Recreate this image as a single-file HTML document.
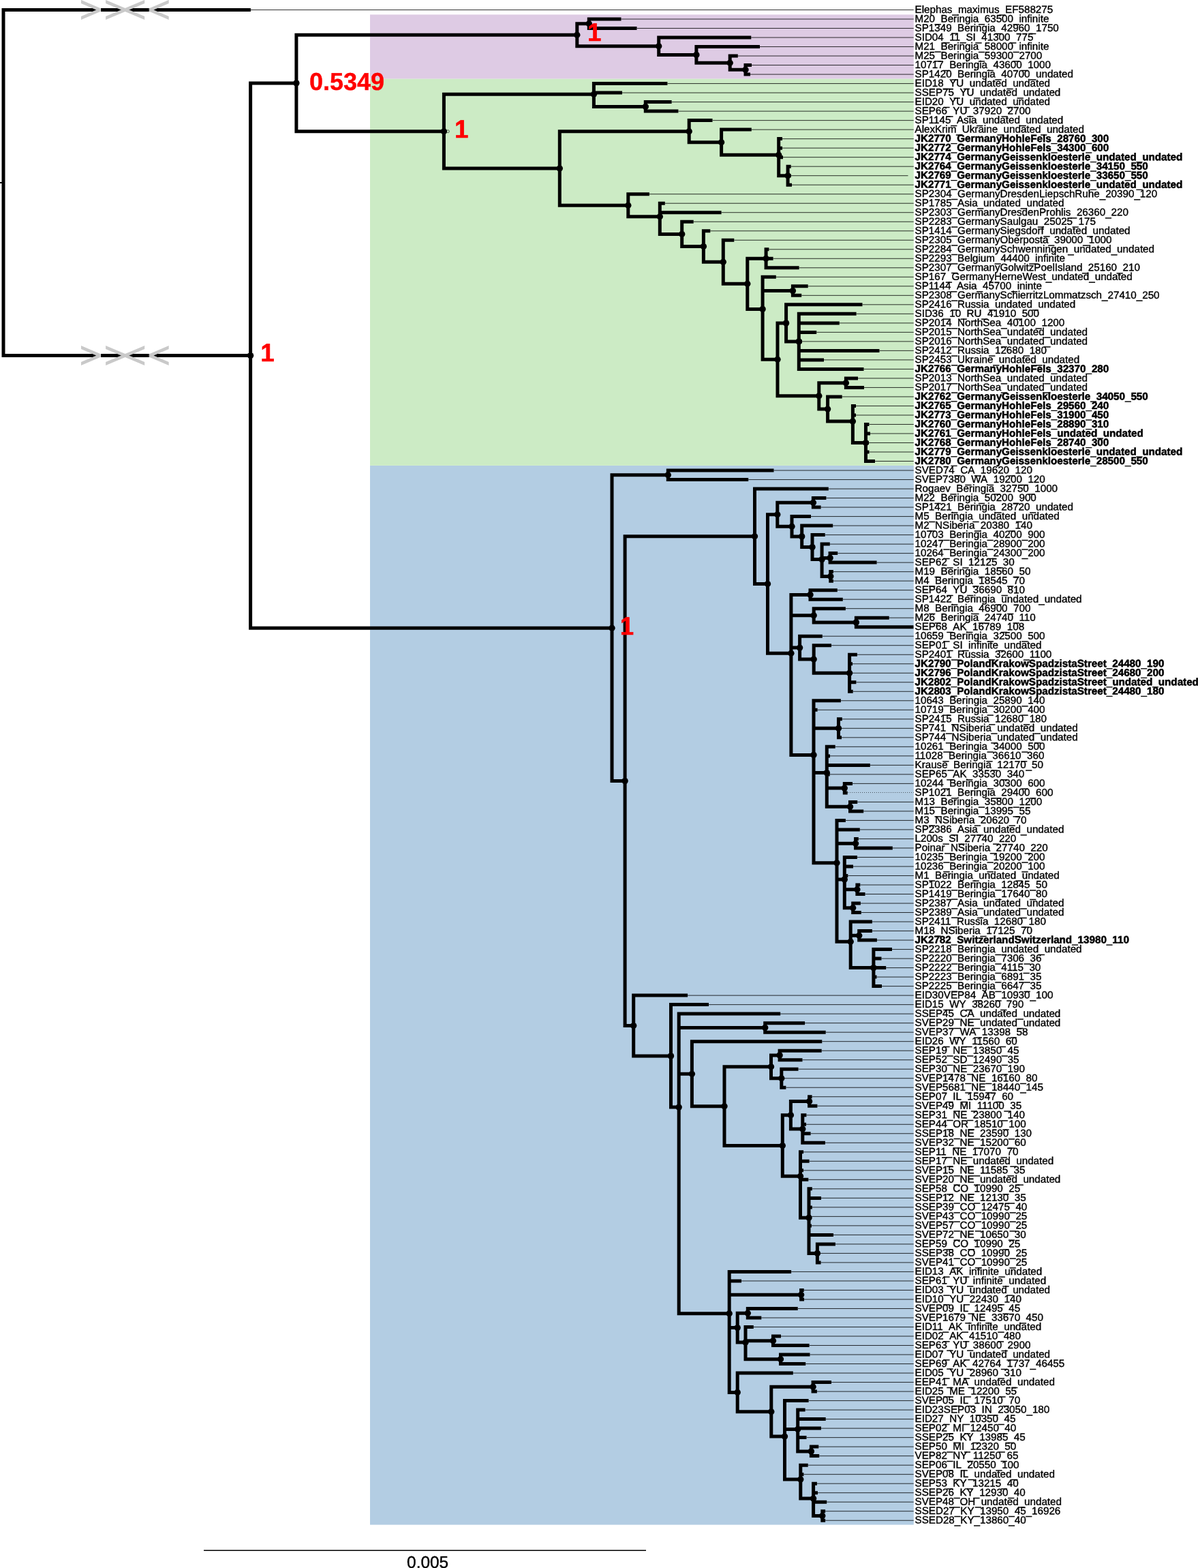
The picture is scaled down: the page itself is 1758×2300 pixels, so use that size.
<!DOCTYPE html>
<html lang="en"><head><meta charset="utf-8"><title>Phylogenetic tree</title>
<style>html,body{margin:0;padding:0;background:#fff}svg{display:block}text{text-rendering:geometricPrecision}.l{font-family:"Liberation Sans",sans-serif;font-size:15.2px;fill:#000;stroke:#000;stroke-width:0.4px}.b{font-weight:bold;stroke-width:0.55px}.s{font-family:"Liberation Sans",sans-serif;font-size:36px;font-weight:bold;fill:#ff0000;stroke:#ff0000;stroke-width:0.7px}</style></head><body>
<svg width="1758" height="2300" viewBox="0 0 1758 2300">
<rect width="1758" height="2300" fill="#fff"/>
<rect x="543" y="21.4" width="797.8" height="94.3" fill="#decbe4"/>
<rect x="543" y="115.7" width="797.8" height="567.2" fill="#ccebc5"/>
<rect x="543" y="683" width="797.8" height="1553.6" fill="#b3cde3"/>
<path d="M367.9 14.5H1340.8M911.5 28.01H1340.8M934.5 41.52H1340.8M1102.3 55.03H1340.8M1115 68.54H1340.8M1082.8 82.05H1340.8M1103 95.56H1340.8M1101 109.07H1340.8M979.4 122.58H1340.8M913 136.09H1340.8M985.6 149.61H1340.8M995.4 163.12H1340.8M1045.5 176.63H1340.8M1102.8 190.14H1340.8M1148 203.65H1340.8M1148 217.16H1340.8M1149 230.67H1340.8M1160.7 244.18H1340.8M1160.7 257.69H1332.5M1162 271.2H1340.8M952.9 284.71H1340.8M975.8 298.22H1340.8M1058.6 311.73H1340.8M1017.7 325.24H1340.8M1042.3 338.75H1340.8M1077.3 352.26H1340.8M1128.4 365.77H1340.8M1134.6 379.28H1340.8M1172.6 392.79H1340.8M1138.8 406.3H1340.8M1185.7 419.81H1340.8M1176.2 433.33H1340.8M1265.5 446.84H1340.8M1256.6 460.35H1340.8M1231.8 473.86H1340.8M1198.2 487.37H1340.8M1177 500.88H1340.8M1290.5 514.39H1340.8M1209 527.9H1340.8M1267.5 541.41H1340.8M1259 554.92H1340.8M1268 568.43H1340.8M1235.7 581.94H1340.8M1256 595.45H1340.8M1256 608.96H1340.8M1275.4 622.47H1340.8M1277 635.98H1340.8M1275 649.49H1340.8M1275.5 663H1340.8M1284 676.51H1340.8M1135.5 690.02H1340.8M1098.2 703.54H1340.8M1215.8 717.05H1340.8M1212.4 730.56H1340.8M1204.6 744.07H1340.8M1190 757.58H1340.8M1222.2 771.09H1340.8M1210.7 784.6H1340.8M1217.8 798.11H1340.8M1229.2 811.62H1340.8M1286.6 825.13H1340.8M1222.9 838.64H1340.8M1222.9 852.15H1340.8M1228.8 865.66H1340.8M1236.8 879.17H1340.8M1240.9 892.68H1340.8M1304.7 906.19H1340.8M1340.5 919.7H1340.8M1206.8 933.21H1340.8M1220 946.72H1340.8M1257.9 960.24H1340.8M1251 973.75H1340.8M1250 987.26H1340.8M1256.4 1000.77H1340.8M1251.7 1014.28H1340.8M1233.9 1027.79H1340.8M1199.6 1041.3H1340.8M1235.8 1054.81H1340.8M1234 1068.32H1340.8M1235 1081.83H1340.8M1225.7 1095.34H1340.8M1218 1108.85H1340.8M1276.8 1122.36H1340.8M1217.7 1135.87H1340.8M1251 1149.38H1340.8M1258.2 1176.4H1340.8M1267.2 1189.91H1340.8M1240.9 1203.42H1340.8M1261.8 1216.93H1340.8M1259.8 1230.44H1340.8M1309.8 1243.96H1340.8M1257.9 1257.47H1340.8M1252 1270.98H1340.8M1244.3 1284.49H1340.8M1262.3 1298H1340.8M1269.5 1311.51H1340.8M1262.9 1325.02H1340.8M1263.8 1338.53H1340.8M1279.9 1352.04H1340.8M1279.9 1365.55H1340.8M1286.9 1379.06H1340.8M1309 1392.57H1340.8M1293.5 1406.08H1340.8M1300.2 1419.59H1340.8M1286.5 1433.1H1340.8M1294 1446.61H1340.8M1009.1 1460.12H1340.8M1040 1473.63H1340.8M1145.2 1487.14H1340.8M1181.1 1500.65H1340.8M1211.7 1514.17H1340.8M1206.3 1527.68H1340.8M1205.7 1541.19H1340.8M1177.5 1554.7H1340.8M1171.5 1568.21H1340.8M1150 1581.72H1340.8M1153.4 1595.23H1340.8M1191.6 1608.74H1340.8M1199.4 1622.25H1340.8M1183.4 1635.76H1340.8M1183 1649.27H1340.8M1189.6 1662.78H1340.8M1210.9 1676.29H1340.8M1179.1 1689.8H1340.8M1187.6 1703.31H1340.8M1179 1716.82H1340.8M1186.3 1730.33H1340.8M1191.8 1743.84H1340.8M1205 1757.35H1340.8M1191.8 1770.87H1340.8M1190 1784.38H1340.8M1190.9 1797.89H1340.8M1223 1811.4H1340.8M1225.9 1824.91H1340.8M1203 1838.42H1340.8M1204.6 1851.93H1340.8M1161.1 1865.44H1340.8M1088 1878.95H1340.8M1179.7 1892.46H1340.8M1180 1905.97H1340.8M1170.7 1919.48H1340.8M1117.3 1932.99H1340.8M1105.8 1946.5H1340.8M1146 1960.01H1340.8M1187.6 1973.52H1340.8M1188.5 1987.03H1340.8M1182.2 2000.54H1340.8M1163.8 2014.05H1340.8M1220 2027.56H1340.8M1198.9 2041.08H1340.8M1186.6 2054.59H1340.8M1181.6 2068.1H1340.8M1211.7 2081.61H1340.8M1204.9 2095.12H1340.8M1183.5 2108.63H1340.8M1201.3 2122.14H1340.8M1202.2 2135.65H1340.8M1185.7 2149.16H1340.8M1179.4 2162.67H1340.8M1198.9 2176.18H1340.8M1200 2189.69H1340.8M1213.2 2203.2H1340.8M1211.1 2216.71H1340.8M1211.1 2230.22H1340.8" fill="none" stroke="#000" stroke-opacity="0.8" stroke-width="1"/>
<path d="M1244 1162.5H1340.8" fill="none" stroke="#000" stroke-opacity="0.6" stroke-width="1" stroke-dasharray="1 2"/>
<path d="M0 268H5" stroke="#000" stroke-width="2" fill="none"/>
<path d="M5 268V14.5H367.9M5 268V521.6H367.6M367.6 521.6V121.9H434.9M434.9 121.9V51.2H846.8M846.8 51.2V34.8H864.3M864.3 34.8V28H911.5M864.3 34.8V41.5H934.5M846.8 51.2V67.7H966.7M966.7 67.7V55H1102.3M966.7 67.7V80.4H1021.9M1021.9 80.4V68.5H1115M1021.9 80.4V92.2H1071.2M1071.2 92.2V82.1H1082.8M1071.2 92.2V102.3H1094M1094 102.3V95.6H1103M1094 102.3V109.1H1101M434.9 121.9V192.7H651.4M651.4 192.7V138.3H871.4M871.4 138.3V122.6H979.4M871.4 138.3V136.1H913M871.4 138.3V156.4H947.3M947.3 156.4V149.6H985.6M947.3 156.4V163.1H995.4M651.4 192.7V247H821.3M821.3 247V192.7H1011.2M1011.2 192.7V176.6H1045.5M1011.2 192.7V208.7H1058.6M1058.6 208.7V190.1H1102.8M1058.6 208.7V227.3H1142.7M1142.7 227.3V203.6H1148M1142.7 227.3V217.2H1148M1142.7 227.3V230.7H1149M1142.7 227.3V257.7H1156.1M1156.1 257.7V244.2H1160.7M1156.1 257.7V257.7H1160.7M1156.1 257.7V271.2H1162M821.3 247V301.2H921.8M921.8 301.2V284.7H952.9M921.8 301.2V317.8H968.3M968.3 317.8V298.2H975.8M968.3 317.8V311.7H1058.6M968.3 317.8V343.4H1000.7M1000.7 343.4V325.2H1017.7M1000.7 343.4V361.5H1032.4M1032.4 361.5V338.8H1042.3M1032.4 361.5V384.3H1061.3M1061.3 384.3V352.3H1077.3M1061.3 384.3V416.3H1096.8M1096.8 416.3V379.3H1124.1M1124.1 379.3V365.8H1128.4M1124.1 379.3V379.3H1134.6M1124.1 379.3V392.8H1172.6M1096.8 416.3V453.4H1119.1M1119.1 453.4V406.3H1138.8M1119.1 453.4V426.6H1163.4M1163.4 426.6V419.8H1185.7M1163.4 426.6V433.3H1176.2M1119.1 453.4V527.3H1141M1141 527.3V473.9H1153.6M1153.6 473.9V446.8H1265.5M1153.6 473.9V500.9H1172.3M1172.3 500.9V460.3H1256.6M1172.3 500.9V473.9H1231.8M1172.3 500.9V487.4H1198.2M1172.3 500.9V500.9H1177M1172.3 500.9V514.4H1290.5M1172.3 500.9V527.9H1209M1172.3 500.9V541.4H1267.5M1141 527.3V580.8H1201.8M1201.8 580.8V561.7H1241.4M1241.4 561.7V554.9H1259M1241.4 561.7V568.4H1268M1201.8 580.8V600H1214.6M1214.6 600V581.9H1235.7M1214.6 600V618H1251.4M1251.4 618V595.5H1256M1251.4 618V609H1256M1251.4 618V649.5H1270.5M1270.5 649.5V622.5H1275.4M1270.5 649.5V636H1277M1270.5 649.5V649.5H1275M1270.5 649.5V663H1275.5M1270.5 649.5V676.5H1284M367.6 521.6V921.2H898M898 921.2V696.8H980.3M980.3 696.8V690H1135.5M980.3 696.8V703.5H1098.2M898 921.2V1145.6H917.1M917.1 1145.6V786.8H1107.5M1107.5 786.8V717H1215.8M1107.5 786.8V856.5H1126.5M1126.5 856.5V754.8H1140.8M1140.8 754.8V737.3H1193.4M1193.4 737.3V730.6H1212.4M1193.4 737.3V744.1H1204.6M1140.8 754.8V772.2H1162M1162 772.2V757.6H1190M1162 772.2V786.9H1176.7M1176.7 786.9V771.1H1222.2M1176.7 786.9V802.6H1192M1192 802.6V784.6H1210.7M1192 802.6V820.6H1206.1M1206.1 820.6V798.1H1217.8M1206.1 820.6V818.4H1218.1M1218.1 818.4V811.6H1229.2M1218.1 818.4V825.1H1286.6M1206.1 820.6V845.4H1218.8M1218.8 845.4V838.6H1222.9M1218.8 845.4V852.2H1222.9M1126.5 856.5V958.2H1160.9M1160.9 958.2V872.4H1189M1189 872.4V865.7H1228.8M1189 872.4V879.2H1236.8M1160.9 958.2V902.8H1194.2M1194.2 902.8V892.7H1240.9M1194.2 902.8V912.9H1256.4M1256.4 912.9V906.2H1304.7M1256.4 912.9V919.7H1340.5M1160.9 958.2V950.1H1173.6M1173.6 950.1V933.2H1206.8M1173.6 950.1V967H1194.2M1194.2 967V946.7H1220M1194.2 967V987.3H1246.6M1246.6 987.3V960.2H1257.9M1246.6 987.3V973.7H1251M1246.6 987.3V987.3H1250M1246.6 987.3V1000.8H1256.4M1246.6 987.3V1014.3H1251.7M1160.9 958.2V1107.4H1194M1194 1107.4V1027.8H1233.9M1194 1107.4V1041.3H1199.6M1194 1107.4V1068.3H1230.5M1230.5 1068.3V1054.8H1235.8M1230.5 1068.3V1068.3H1234M1230.5 1068.3V1081.8H1235M1194 1107.4V1133.6H1213.3M1213.3 1133.6V1095.3H1225.7M1213.3 1133.6V1108.9H1218M1213.3 1133.6V1122.4H1276.8M1213.3 1133.6V1135.9H1217.7M1213.3 1133.6V1156.1H1239.3M1239.3 1156.1V1149.4H1251M1239.3 1156.1V1162.9H1243.7M1213.3 1133.6V1183.2H1247.5M1247.5 1183.2V1176.4H1258.2M1247.5 1183.2V1189.9H1267.2M1194 1107.4V1265.8H1228M1228 1265.8V1203.4H1240.9M1228 1265.8V1216.9H1261.8M1228 1265.8V1237.2H1255.6M1255.6 1237.2V1230.4H1259.8M1255.6 1237.2V1244H1309.8M1228 1265.8V1289.9H1239.3M1239.3 1289.9V1257.5H1257.9M1239.3 1289.9V1271H1252M1239.3 1289.9V1284.5H1244.3M1239.3 1289.9V1304.8H1257.9M1257.9 1304.8V1298H1262.3M1257.9 1304.8V1311.5H1269.5M1239.3 1289.9V1331.8H1251.7M1251.7 1331.8V1325H1262.9M1251.7 1331.8V1338.5H1263.8M1228 1265.8V1381.3H1248.2M1248.2 1381.3V1352H1279.9M1248.2 1381.3V1372.3H1260.7M1260.7 1372.3V1365.5H1279.9M1260.7 1372.3V1379.1H1286.9M1248.2 1381.3V1419.6H1281.9M1281.9 1419.6V1392.6H1309M1281.9 1419.6V1406.1H1293.5M1281.9 1419.6V1419.6H1300.2M1281.9 1419.6V1433.1H1286.5M1281.9 1419.6V1446.6H1294M917.1 1145.6V1504.5H929.7M929.7 1504.5V1460.1H1009.1M929.7 1504.5V1548.9H984.5M984.5 1548.9V1473.6H1040M984.5 1548.9V1624.1H996.2M996.2 1624.1V1487.1H1145.2M996.2 1624.1V1507.4H1122.7M1122.7 1507.4V1500.7H1181.1M1122.7 1507.4V1514.2H1211.7M996.2 1624.1V1575.2H1015.4M1015.4 1575.2V1527.7H1206.3M1015.4 1575.2V1622.7H1063M1063 1622.7V1564.8H1131.5M1131.5 1564.8V1547.9H1144.1M1144.1 1547.9V1541.2H1205.7M1144.1 1547.9V1554.7H1177.5M1131.5 1564.8V1581.7H1146.8M1146.8 1581.7V1568.2H1171.5M1146.8 1581.7V1581.7H1150M1146.8 1581.7V1595.2H1153.4M1063 1622.7V1680.5H1148.3M1148.3 1680.5V1635.8H1160.4M1160.4 1635.8V1615.5H1187.6M1187.6 1615.5V1608.7H1191.6M1187.6 1615.5V1622.2H1199.4M1160.4 1635.8V1656H1177.8M1177.8 1656V1635.8H1183.4M1177.8 1656V1649.3H1183M1177.8 1656V1662.8H1189.6M1177.8 1656V1676.3H1210.9M1148.3 1680.5V1725.3H1174.5M1174.5 1725.3V1689.8H1179.1M1174.5 1725.3V1703.3H1187.6M1174.5 1725.3V1716.8H1179M1174.5 1725.3V1730.3H1186.3M1174.5 1725.3V1786.3H1187M1187 1786.3V1743.8H1191.8M1187 1786.3V1757.4H1205M1187 1786.3V1770.9H1191.8M1187 1786.3V1784.4H1190M1187 1786.3V1797.9H1190.9M1187 1786.3V1811.4H1223M1187 1786.3V1838.4H1199.4M1199.4 1838.4V1824.9H1225.9M1199.4 1838.4V1838.4H1203M1199.4 1838.4V1851.9H1204.6M996.2 1624.1V1926.7H1070.2M1070.2 1926.7V1865.4H1161.1M1070.2 1926.7V1878.9H1088M1070.2 1926.7V1899.2H1175.6M1175.6 1899.2V1892.5H1179.7M1175.6 1899.2V1906H1180M1070.2 1926.7V1947.6H1082.2M1082.2 1947.6V1926.2H1097.3M1097.3 1926.2V1919.5H1170.7M1097.3 1926.2V1933H1117.3M1082.2 1947.6V1969H1094M1094 1969V1946.5H1105.8M1094 1969V1966.8H1134.5M1134.5 1966.8V1960H1146M1134.5 1966.8V1973.5H1187.6M1094 1969V1993.8H1145.5M1145.5 1993.8V1987H1188.5M1145.5 1993.8V2000.5H1182.2M1070.2 1926.7V2042.4H1082.2M1082.2 2042.4V2014.1H1163.8M1082.2 2042.4V2070.7H1131.8M1131.8 2070.7V2034.3H1193.1M1193.1 2034.3V2027.6H1220M1193.1 2034.3V2041.1H1198.9M1131.8 2070.7V2107H1151.5M1151.5 2107V2054.6H1186.6M1151.5 2107V2096.5H1170.7M1170.7 2096.5V2068.1H1181.6M1170.7 2096.5V2081.6H1211.7M1170.7 2096.5V2095.1H1204.9M1170.7 2096.5V2108.6H1183.5M1170.7 2096.5V2128.9H1190.4M1190.4 2128.9V2122.1H1201.3M1190.4 2128.9V2135.6H1202.2M1151.5 2107V2170H1174.8M1174.8 2170V2149.2H1185.7M1174.8 2170V2162.7H1179.4M1174.8 2170V2198.1H1193.6M1193.6 2198.1V2176.2H1198.9M1193.6 2198.1V2189.7H1200M1193.6 2198.1V2203.2H1213.2M1193.6 2198.1V2223.5H1206.8M1206.8 2223.5V2216.7H1211.1M1206.8 2223.5V2230.2H1211.1" fill="none" stroke="#000" stroke-width="5.0" stroke-linejoin="miter" stroke-linecap="butt"/>
<g fill="#000">
<circle cx="367.6" cy="521.6" r="4.7"/>
<circle cx="434.9" cy="121.9" r="4.7"/>
<circle cx="846.8" cy="51.2" r="4.7"/>
<circle cx="864.3" cy="34.8" r="4.7"/>
<circle cx="966.7" cy="67.7" r="4.7"/>
<circle cx="1021.9" cy="80.4" r="4.7"/>
<circle cx="1071.2" cy="92.2" r="4.7"/>
<circle cx="1094" cy="102.3" r="4.7"/>
<circle cx="651.4" cy="192.7" r="4.7"/>
<circle cx="871.4" cy="138.3" r="4.7"/>
<circle cx="947.3" cy="156.4" r="4.7"/>
<circle cx="821.3" cy="247" r="4.7"/>
<circle cx="1011.2" cy="192.7" r="4.7"/>
<circle cx="1058.6" cy="208.7" r="4.7"/>
<circle cx="1142.7" cy="227.3" r="4.7"/>
<circle cx="1156.1" cy="257.7" r="4.7"/>
<circle cx="921.8" cy="301.2" r="4.7"/>
<circle cx="968.3" cy="317.8" r="4.7"/>
<circle cx="1000.7" cy="343.4" r="4.7"/>
<circle cx="1032.4" cy="361.5" r="4.7"/>
<circle cx="1061.3" cy="384.3" r="4.7"/>
<circle cx="1096.8" cy="416.3" r="4.7"/>
<circle cx="1124.1" cy="379.3" r="4.7"/>
<circle cx="1119.1" cy="453.4" r="4.7"/>
<circle cx="1163.4" cy="426.6" r="4.7"/>
<circle cx="1141" cy="527.3" r="4.7"/>
<circle cx="1153.6" cy="473.9" r="4.7"/>
<circle cx="1172.3" cy="500.9" r="4.7"/>
<circle cx="1201.8" cy="580.8" r="4.7"/>
<circle cx="1241.4" cy="561.7" r="4.7"/>
<circle cx="1214.6" cy="600" r="4.7"/>
<circle cx="1251.4" cy="618" r="4.7"/>
<circle cx="1270.5" cy="649.5" r="4.7"/>
<circle cx="898" cy="921.2" r="4.7"/>
<circle cx="980.3" cy="696.8" r="4.7"/>
<circle cx="917.1" cy="1145.6" r="4.7"/>
<circle cx="1107.5" cy="786.8" r="4.7"/>
<circle cx="1126.5" cy="856.5" r="4.7"/>
<circle cx="1140.8" cy="754.8" r="4.7"/>
<circle cx="1193.4" cy="737.3" r="4.7"/>
<circle cx="1162" cy="772.2" r="4.7"/>
<circle cx="1176.7" cy="786.9" r="4.7"/>
<circle cx="1192" cy="802.6" r="4.7"/>
<circle cx="1206.1" cy="820.6" r="4.7"/>
<circle cx="1218.1" cy="818.4" r="4.7"/>
<circle cx="1218.8" cy="845.4" r="4.7"/>
<circle cx="1160.9" cy="958.2" r="4.7"/>
<circle cx="1189" cy="872.4" r="4.7"/>
<circle cx="1194.2" cy="902.8" r="4.7"/>
<circle cx="1256.4" cy="912.9" r="4.7"/>
<circle cx="1173.6" cy="950.1" r="4.7"/>
<circle cx="1194.2" cy="967" r="4.7"/>
<circle cx="1246.6" cy="987.3" r="4.7"/>
<circle cx="1194" cy="1107.4" r="4.7"/>
<circle cx="1230.5" cy="1068.3" r="4.7"/>
<circle cx="1213.3" cy="1133.6" r="4.7"/>
<circle cx="1239.3" cy="1156.1" r="4.7"/>
<circle cx="1247.5" cy="1183.2" r="4.7"/>
<circle cx="1228" cy="1265.8" r="4.7"/>
<circle cx="1255.6" cy="1237.2" r="4.7"/>
<circle cx="1239.3" cy="1289.9" r="4.7"/>
<circle cx="1257.9" cy="1304.8" r="4.7"/>
<circle cx="1251.7" cy="1331.8" r="4.7"/>
<circle cx="1248.2" cy="1381.3" r="4.7"/>
<circle cx="1260.7" cy="1372.3" r="4.7"/>
<circle cx="1281.9" cy="1419.6" r="4.7"/>
<circle cx="929.7" cy="1504.5" r="4.7"/>
<circle cx="984.5" cy="1548.9" r="4.7"/>
<circle cx="996.2" cy="1624.1" r="4.7"/>
<circle cx="1122.7" cy="1507.4" r="4.7"/>
<circle cx="1015.4" cy="1575.2" r="4.7"/>
<circle cx="1063" cy="1622.7" r="4.7"/>
<circle cx="1131.5" cy="1564.8" r="4.7"/>
<circle cx="1144.1" cy="1547.9" r="4.7"/>
<circle cx="1146.8" cy="1581.7" r="4.7"/>
<circle cx="1148.3" cy="1680.5" r="4.7"/>
<circle cx="1160.4" cy="1635.8" r="4.7"/>
<circle cx="1187.6" cy="1615.5" r="4.7"/>
<circle cx="1177.8" cy="1656" r="4.7"/>
<circle cx="1174.5" cy="1725.3" r="4.7"/>
<circle cx="1187" cy="1786.3" r="4.7"/>
<circle cx="1199.4" cy="1838.4" r="4.7"/>
<circle cx="1070.2" cy="1926.7" r="4.7"/>
<circle cx="1175.6" cy="1899.2" r="4.7"/>
<circle cx="1082.2" cy="1947.6" r="4.7"/>
<circle cx="1097.3" cy="1926.2" r="4.7"/>
<circle cx="1094" cy="1969" r="4.7"/>
<circle cx="1134.5" cy="1966.8" r="4.7"/>
<circle cx="1145.5" cy="1993.8" r="4.7"/>
<circle cx="1082.2" cy="2042.4" r="4.7"/>
<circle cx="1131.8" cy="2070.7" r="4.7"/>
<circle cx="1193.1" cy="2034.3" r="4.7"/>
<circle cx="1151.5" cy="2107" r="4.7"/>
<circle cx="1170.7" cy="2096.5" r="4.7"/>
<circle cx="1190.4" cy="2128.9" r="4.7"/>
<circle cx="1174.8" cy="2170" r="4.7"/>
<circle cx="1193.6" cy="2198.1" r="4.7"/>
<circle cx="1206.8" cy="2223.5" r="4.7"/>
</g>
<circle cx="657.3" cy="192.7" r="2" fill="none" stroke="#000" stroke-width="0.6"/>
<path d="M147.1 14.5H148M218.7 14.5H219.6" stroke="#fff" stroke-width="6" fill="none"/><polygon points="119,-0.1 147.1,12 147.1,17 119,29.1 119,24.1 141.2,14.5 119,4.9" fill="#c9c9c9"/><polygon points="155.1,-0.1 212.2,24.1 212.2,29.1 155.1,4.9" fill="#c9c9c9"/><polygon points="155.1,29.1 212.2,4.9 212.2,-0.1 155.1,24.1" fill="#c9c9c9"/><polygon points="247.7,-0.1 219.6,12 219.6,17 247.7,29.1 247.7,24.1 225.5,14.5 247.7,4.9" fill="#c9c9c9"/>
<path d="M147.1 521.6H148M218.7 521.6H219.6" stroke="#fff" stroke-width="6" fill="none"/><polygon points="119,507 147.1,519.1 147.1,524.1 119,536.1 119,531.1 141.2,521.6 119,512" fill="#c9c9c9"/><polygon points="155.1,507 212.2,531.1 212.2,536.1 155.1,512" fill="#c9c9c9"/><polygon points="155.1,536.1 212.2,512 212.2,507 155.1,531.1" fill="#c9c9c9"/><polygon points="247.7,507 219.6,519.1 219.6,524.1 247.7,536.1 247.7,531.1 225.5,521.6 247.7,512" fill="#c9c9c9"/>
<text class="l" transform="translate(1342.5 18.95) rotate(.03 99 0)" dy="0 0 0 0 0 0 0 .9 -.9 0 0 0 0 0 0 .9 -.9">Elephas_maximus_EF588275</text>
<text class="l" transform="translate(1342.5 32.46) rotate(.03 99 0)" dy="0 0 0 .9 -.9 0 0 0 0 0 0 0 .9 -.9 0 0 0 0 .9 -.9">M20_Beringia_63500_infinite</text>
<text class="l" transform="translate(1342.5 45.97) rotate(.03 99 0)" dy="0 0 0 0 0 0 .9 -.9 0 0 0 0 0 0 0 .9 -.9 0 0 0 0 .9 -.9">SP1349_Beringia_42960_1750</text>
<text class="l" transform="translate(1342.5 59.48) rotate(.03 99 0)" dy="0 0 0 0 0 .9 -.9 0 .9 -.9 0 .9 -.9 0 0 0 0 .9 -.9">SID04_11_SI_41300_775</text>
<text class="l" transform="translate(1342.5 72.99) rotate(.03 99 0)" dy="0 0 0 .9 -.9 0 0 0 0 0 0 0 .9 -.9 0 0 0 0 .9 -.9">M21_Beringia_58000_infinite</text>
<text class="l" transform="translate(1342.5 86.5) rotate(.03 99 0)" dy="0 0 0 .9 -.9 0 0 0 0 0 0 0 .9 -.9 0 0 0 0 .9 -.9">M25_Beringia_59300_2700</text>
<text class="l" transform="translate(1342.5 100.01) rotate(.03 99 0)" dy="0 0 0 0 0 .9 -.9 0 0 0 0 0 0 0 .9 -.9 0 0 0 0 .9 -.9">10717_Beringia_43600_1000</text>
<text class="l" transform="translate(1342.5 113.52) rotate(.03 99 0)" dy="0 0 0 0 0 0 .9 -.9 0 0 0 0 0 0 0 .9 -.9 0 0 0 0 .9 -.9">SP1420_Beringia_40700_undated</text>
<text class="l" transform="translate(1342.5 127.03) rotate(.03 99 0)" dy="0 0 0 0 0 .9 -.9 0 .9 -.9 0 0 0 0 0 0 .9 -.9">EID18_YU_undated_undated</text>
<text class="l" transform="translate(1342.5 140.54) rotate(.03 99 0)" dy="0 0 0 0 0 0 .9 -.9 0 .9 -.9 0 0 0 0 0 0 .9 -.9">SSEP75_YU_undated_undated</text>
<text class="l" transform="translate(1342.5 154.06) rotate(.03 99 0)" dy="0 0 0 0 0 .9 -.9 0 .9 -.9 0 0 0 0 0 0 .9 -.9">EID20_YU_undated_undated</text>
<text class="l" transform="translate(1342.5 167.57) rotate(.03 99 0)" dy="0 0 0 0 0 .9 -.9 0 .9 -.9 0 0 0 0 .9 -.9">SEP66_YU_37920_2700</text>
<text class="l" transform="translate(1342.5 181.08) rotate(.03 99 0)" dy="0 0 0 0 0 0 .9 -.9 0 0 0 .9 -.9 0 0 0 0 0 0 .9 -.9">SP1145_Asia_undated_undated</text>
<text class="l" transform="translate(1342.5 194.59) rotate(.03 99 0)" dy="0 0 0 0 0 0 0 0 .9 -.9 0 0 0 0 0 0 .9 -.9 0 0 0 0 0 0 .9 -.9">AlexKrim_Ukraine_undated_undated</text>
<text class="l b" transform="translate(1342.5 208.1) rotate(.03 99 0)" dy="0 0 0 0 0 0 .9 -.9 0 0 0 0 0 0 0 0 0 0 0 0 0 0 0 .9 -.9 0 0 0 0 .9 -.9">JK2770_GermanyHohleFels_28760_300</text>
<text class="l b" transform="translate(1342.5 221.61) rotate(.03 99 0)" dy="0 0 0 0 0 0 .9 -.9 0 0 0 0 0 0 0 0 0 0 0 0 0 0 0 .9 -.9 0 0 0 0 .9 -.9">JK2772_GermanyHohleFels_34300_600</text>
<text class="l b" transform="translate(1342.5 235.12) rotate(.03 99 0)" dy="0 0 0 0 0 0 .9 -.9 0 0 0 0 0 0 0 0 0 0 0 0 0 0 0 0 0 0 0 0 0 0 0 .9 -.9 0 0 0 0 0 0 .9 -.9">JK2774_GermanyGeissenkloesterle_undated_undated</text>
<text class="l b" transform="translate(1342.5 248.63) rotate(.03 99 0)" dy="0 0 0 0 0 0 .9 -.9 0 0 0 0 0 0 0 0 0 0 0 0 0 0 0 0 0 0 0 0 0 0 0 .9 -.9 0 0 0 0 .9 -.9">JK2764_GermanyGeissenkloesterle_34150_550</text>
<text class="l b" transform="translate(1342.5 262.14) rotate(.03 99 0)" dy="0 0 0 0 0 0 .9 -.9 0 0 0 0 0 0 0 0 0 0 0 0 0 0 0 0 0 0 0 0 0 0 0 .9 -.9 0 0 0 0 .9 -.9">JK2769_GermanyGeissenkloesterle_33650_550</text>
<text class="l b" transform="translate(1342.5 275.65) rotate(.03 99 0)" dy="0 0 0 0 0 0 .9 -.9 0 0 0 0 0 0 0 0 0 0 0 0 0 0 0 0 0 0 0 0 0 0 0 .9 -.9 0 0 0 0 0 0 .9 -.9">JK2771_GermanyGeissenkloesterle_undated_undated</text>
<text class="l" transform="translate(1342.5 289.16) rotate(.03 99 0)" dy="0 0 0 0 0 0 .9 -.9 0 0 0 0 0 0 0 0 0 0 0 0 0 0 0 0 0 0 0 0 0 0 0 0 .9 -.9 0 0 0 0 .9 -.9">SP2304_GermanyDresdenLiepschRuhe_20390_120</text>
<text class="l" transform="translate(1342.5 302.67) rotate(.03 99 0)" dy="0 0 0 0 0 0 .9 -.9 0 0 0 .9 -.9 0 0 0 0 0 0 .9 -.9">SP1785_Asia_undated_undated</text>
<text class="l" transform="translate(1342.5 316.18) rotate(.03 99 0)" dy="0 0 0 0 0 0 .9 -.9 0 0 0 0 0 0 0 0 0 0 0 0 0 0 0 0 0 0 0 0 .9 -.9 0 0 0 0 .9 -.9">SP2303_GermanyDresdenProhlis_26360_220</text>
<text class="l" transform="translate(1342.5 329.69) rotate(.03 99 0)" dy="0 0 0 0 0 0 .9 -.9 0 0 0 0 0 0 0 0 0 0 0 0 0 .9 -.9 0 0 0 0 .9 -.9">SP2283_GermanySaulgau_25025_175</text>
<text class="l" transform="translate(1342.5 343.2) rotate(.03 99 0)" dy="0 0 0 0 0 0 .9 -.9 0 0 0 0 0 0 0 0 0 0 0 0 0 0 0 .9 -.9 0 0 0 0 0 0 .9 -.9">SP1414_GermanySiegsdorf_undated_undated</text>
<text class="l" transform="translate(1342.5 356.71) rotate(.03 99 0)" dy="0 0 0 0 0 0 .9 -.9 0 0 0 0 0 0 0 0 0 0 0 0 0 0 0 .9 -.9 0 0 0 0 .9 -.9">SP2305_GermanyOberposta_39000_1000</text>
<text class="l" transform="translate(1342.5 370.22) rotate(.03 99 0)" dy="0 0 0 0 0 0 .9 -.9 0 0 0 0 0 0 0 0 0 0 0 0 0 0 0 0 0 0 .9 -.9 0 0 0 0 0 0 .9 -.9">SP2284_GermanySchwenningen_undated_undated</text>
<text class="l" transform="translate(1342.5 383.73) rotate(.03 99 0)" dy="0 0 0 0 0 0 .9 -.9 0 0 0 0 0 0 .9 -.9 0 0 0 0 .9 -.9">SP2293_Belgium_44400_infinite</text>
<text class="l" transform="translate(1342.5 397.24) rotate(.03 99 0)" dy="0 0 0 0 0 0 .9 -.9 0 0 0 0 0 0 0 0 0 0 0 0 0 0 0 0 0 0 0 0 0 0 0 .9 -.9 0 0 0 0 .9 -.9">SP2307_GermanyGolwitzPoelIsland_25160_210</text>
<text class="l" transform="translate(1342.5 410.75) rotate(.03 99 0)" dy="0 0 0 0 0 .9 -.9 0 0 0 0 0 0 0 0 0 0 0 0 0 0 0 .9 -.9 0 0 0 0 0 0 .9 -.9">SP167_GermanyHerneWest_undated_undated</text>
<text class="l" transform="translate(1342.5 424.26) rotate(.03 99 0)" dy="0 0 0 0 0 0 .9 -.9 0 0 0 .9 -.9 0 0 0 0 .9 -.9">SP1144_Asia_45700_ininte</text>
<text class="l" transform="translate(1342.5 437.78) rotate(.03 99 0)" dy="0 0 0 0 0 0 .9 -.9 0 0 0 0 0 0 0 0 0 0 0 0 0 0 0 0 0 0 0 0 0 0 0 0 0 0 .9 -.9 0 0 0 0 .9 -.9">SP2308_GermanySchierritzLommatzsch_27410_250</text>
<text class="l" transform="translate(1342.5 451.29) rotate(.03 99 0)" dy="0 0 0 0 0 0 .9 -.9 0 0 0 0 0 .9 -.9 0 0 0 0 0 0 .9 -.9">SP2416_Russia_undated_undated</text>
<text class="l" transform="translate(1342.5 464.8) rotate(.03 99 0)" dy="0 0 0 0 0 .9 -.9 0 .9 -.9 0 .9 -.9 0 0 0 0 .9 -.9">SID36_10_RU_41910_500</text>
<text class="l" transform="translate(1342.5 478.31) rotate(.03 99 0)" dy="0 0 0 0 0 0 .9 -.9 0 0 0 0 0 0 0 .9 -.9 0 0 0 0 .9 -.9">SP2014_NorthSea_40100_1200</text>
<text class="l" transform="translate(1342.5 491.82) rotate(.03 99 0)" dy="0 0 0 0 0 0 .9 -.9 0 0 0 0 0 0 0 .9 -.9 0 0 0 0 0 0 .9 -.9">SP2015_NorthSea_undated_undated</text>
<text class="l" transform="translate(1342.5 505.33) rotate(.03 99 0)" dy="0 0 0 0 0 0 .9 -.9 0 0 0 0 0 0 0 .9 -.9 0 0 0 0 0 0 .9 -.9">SP2016_NorthSea_undated_undated</text>
<text class="l" transform="translate(1342.5 518.84) rotate(.03 99 0)" dy="0 0 0 0 0 0 .9 -.9 0 0 0 0 0 .9 -.9 0 0 0 0 .9 -.9">SP2412_Russia_12680_180</text>
<text class="l" transform="translate(1342.5 532.35) rotate(.03 99 0)" dy="0 0 0 0 0 0 .9 -.9 0 0 0 0 0 0 .9 -.9 0 0 0 0 0 0 .9 -.9">SP2453_Ukraine_undated_undated</text>
<text class="l b" transform="translate(1342.5 545.86) rotate(.03 99 0)" dy="0 0 0 0 0 0 .9 -.9 0 0 0 0 0 0 0 0 0 0 0 0 0 0 0 .9 -.9 0 0 0 0 .9 -.9">JK2766_GermanyHohleFels_32370_280</text>
<text class="l" transform="translate(1342.5 559.37) rotate(.03 99 0)" dy="0 0 0 0 0 0 .9 -.9 0 0 0 0 0 0 0 .9 -.9 0 0 0 0 0 0 .9 -.9">SP2013_NorthSea_undated_undated</text>
<text class="l" transform="translate(1342.5 572.88) rotate(.03 99 0)" dy="0 0 0 0 0 0 .9 -.9 0 0 0 0 0 0 0 .9 -.9 0 0 0 0 0 0 .9 -.9">SP2017_NorthSea_undated_undated</text>
<text class="l b" transform="translate(1342.5 586.39) rotate(.03 99 0)" dy="0 0 0 0 0 0 .9 -.9 0 0 0 0 0 0 0 0 0 0 0 0 0 0 0 0 0 0 0 0 0 0 0 .9 -.9 0 0 0 0 .9 -.9">JK2762_GermanyGeissenkloesterle_34050_550</text>
<text class="l b" transform="translate(1342.5 599.9) rotate(.03 99 0)" dy="0 0 0 0 0 0 .9 -.9 0 0 0 0 0 0 0 0 0 0 0 0 0 0 0 .9 -.9 0 0 0 0 .9 -.9">JK2765_GermanyHohleFels_29560_240</text>
<text class="l b" transform="translate(1342.5 613.41) rotate(.03 99 0)" dy="0 0 0 0 0 0 .9 -.9 0 0 0 0 0 0 0 0 0 0 0 0 0 0 0 .9 -.9 0 0 0 0 .9 -.9">JK2773_GermanyHohleFels_31900_450</text>
<text class="l b" transform="translate(1342.5 626.92) rotate(.03 99 0)" dy="0 0 0 0 0 0 .9 -.9 0 0 0 0 0 0 0 0 0 0 0 0 0 0 0 .9 -.9 0 0 0 0 .9 -.9">JK2760_GermanyHohleFels_28890_310</text>
<text class="l b" transform="translate(1342.5 640.43) rotate(.03 99 0)" dy="0 0 0 0 0 0 .9 -.9 0 0 0 0 0 0 0 0 0 0 0 0 0 0 0 .9 -.9 0 0 0 0 0 0 .9 -.9">JK2761_GermanyHohleFels_undated_undated</text>
<text class="l b" transform="translate(1342.5 653.94) rotate(.03 99 0)" dy="0 0 0 0 0 0 .9 -.9 0 0 0 0 0 0 0 0 0 0 0 0 0 0 0 .9 -.9 0 0 0 0 .9 -.9">JK2768_GermanyHohleFels_28740_300</text>
<text class="l b" transform="translate(1342.5 667.45) rotate(.03 99 0)" dy="0 0 0 0 0 0 .9 -.9 0 0 0 0 0 0 0 0 0 0 0 0 0 0 0 0 0 0 0 0 0 0 0 .9 -.9 0 0 0 0 0 0 .9 -.9">JK2779_GermanyGeissenkloesterle_undated_undated</text>
<text class="l b" transform="translate(1342.5 680.96) rotate(.03 99 0)" dy="0 0 0 0 0 0 .9 -.9 0 0 0 0 0 0 0 0 0 0 0 0 0 0 0 0 0 0 0 0 0 0 0 .9 -.9 0 0 0 0 .9 -.9">JK2780_GermanyGeissenkloesterle_28500_550</text>
<text class="l" transform="translate(1342.5 694.48) rotate(.03 99 0)" dy="0 0 0 0 0 0 .9 -.9 0 .9 -.9 0 0 0 0 .9 -.9">SVED74_CA_19620_120</text>
<text class="l" transform="translate(1342.5 707.99) rotate(.03 99 0)" dy="0 0 0 0 0 0 0 0 .9 -.9 0 .9 -.9 0 0 0 0 .9 -.9">SVEP7380_WA_19200_120</text>
<text class="l" transform="translate(1342.5 721.5) rotate(.03 99 0)" dy="0 0 0 0 0 0 .9 -.9 0 0 0 0 0 0 0 .9 -.9 0 0 0 0 .9 -.9">Rogaev_Beringia_32750_1000</text>
<text class="l" transform="translate(1342.5 735.01) rotate(.03 99 0)" dy="0 0 0 .9 -.9 0 0 0 0 0 0 0 .9 -.9 0 0 0 0 .9 -.9">M22_Beringia_50200_900</text>
<text class="l" transform="translate(1342.5 748.52) rotate(.03 99 0)" dy="0 0 0 0 0 0 .9 -.9 0 0 0 0 0 0 0 .9 -.9 0 0 0 0 .9 -.9">SP1421_Beringia_28720_undated</text>
<text class="l" transform="translate(1342.5 762.03) rotate(.03 99 0)" dy="0 0 .9 -.9 0 0 0 0 0 0 0 .9 -.9 0 0 0 0 0 0 .9 -.9">M5_Beringia_undated_undated</text>
<text class="l" transform="translate(1342.5 775.54) rotate(.03 99 0)" dy="0 0 .9 -.9 0 0 0 0 0 0 0 .9 -.9 0 0 0 0 .9 -.9">M2_NSiberia_20380_140</text>
<text class="l" transform="translate(1342.5 789.05) rotate(.03 99 0)" dy="0 0 0 0 0 .9 -.9 0 0 0 0 0 0 0 .9 -.9 0 0 0 0 .9 -.9">10703_Beringia_40200_900</text>
<text class="l" transform="translate(1342.5 802.56) rotate(.03 99 0)" dy="0 0 0 0 0 .9 -.9 0 0 0 0 0 0 0 .9 -.9 0 0 0 0 .9 -.9">10247_Beringia_28900_200</text>
<text class="l" transform="translate(1342.5 816.07) rotate(.03 99 0)" dy="0 0 0 0 0 .9 -.9 0 0 0 0 0 0 0 .9 -.9 0 0 0 0 .9 -.9">10264_Beringia_24300_200</text>
<text class="l" transform="translate(1342.5 829.58) rotate(.03 99 0)" dy="0 0 0 0 0 .9 -.9 0 .9 -.9 0 0 0 0 .9 -.9">SEP62_SI_12125_30</text>
<text class="l" transform="translate(1342.5 843.09) rotate(.03 99 0)" dy="0 0 0 .9 -.9 0 0 0 0 0 0 0 .9 -.9 0 0 0 0 .9 -.9">M19_Beringia_18560_50</text>
<text class="l" transform="translate(1342.5 856.6) rotate(.03 99 0)" dy="0 0 .9 -.9 0 0 0 0 0 0 0 .9 -.9 0 0 0 0 .9 -.9">M4_Beringia_18545_70</text>
<text class="l" transform="translate(1342.5 870.11) rotate(.03 99 0)" dy="0 0 0 0 0 .9 -.9 0 .9 -.9 0 0 0 0 .9 -.9">SEP64_YU_36690_810</text>
<text class="l" transform="translate(1342.5 883.62) rotate(.03 99 0)" dy="0 0 0 0 0 0 .9 -.9 0 0 0 0 0 0 0 .9 -.9 0 0 0 0 0 0 .9 -.9">SP1422_Beringia_undated_undated</text>
<text class="l" transform="translate(1342.5 897.13) rotate(.03 99 0)" dy="0 0 .9 -.9 0 0 0 0 0 0 0 .9 -.9 0 0 0 0 .9 -.9">M8_Beringia_46900_700</text>
<text class="l" transform="translate(1342.5 910.64) rotate(.03 99 0)" dy="0 0 0 .9 -.9 0 0 0 0 0 0 0 .9 -.9 0 0 0 0 .9 -.9">M26_Beringia_24740_110</text>
<text class="l" transform="translate(1342.5 924.15) rotate(.03 99 0)" dy="0 0 0 0 0 .9 -.9 0 .9 -.9 0 0 0 0 .9 -.9">SEP68_AK_16789_108</text>
<text class="l" transform="translate(1342.5 937.66) rotate(.03 99 0)" dy="0 0 0 0 0 .9 -.9 0 0 0 0 0 0 0 .9 -.9 0 0 0 0 .9 -.9">10659_Beringia_32500_500</text>
<text class="l" transform="translate(1342.5 951.17) rotate(.03 99 0)" dy="0 0 0 0 0 .9 -.9 0 .9 -.9 0 0 0 0 0 0 0 .9 -.9">SEP01_SI_infinite_undated</text>
<text class="l" transform="translate(1342.5 964.69) rotate(.03 99 0)" dy="0 0 0 0 0 0 .9 -.9 0 0 0 0 0 .9 -.9 0 0 0 0 .9 -.9">SP2401_Russia_32600_1100</text>
<text class="l b" transform="translate(1342.5 978.2) rotate(.03 99 0)" dy="0 0 0 0 0 0 .9 -.9 0 0 0 0 0 0 0 0 0 0 0 0 0 0 0 0 0 0 0 0 0 0 0 0 0 0 .9 -.9 0 0 0 0 .9 -.9">JK2790_PolandKrakowSpadzistaStreet_24480_190</text>
<text class="l b" transform="translate(1342.5 991.71) rotate(.03 99 0)" dy="0 0 0 0 0 0 .9 -.9 0 0 0 0 0 0 0 0 0 0 0 0 0 0 0 0 0 0 0 0 0 0 0 0 0 0 .9 -.9 0 0 0 0 .9 -.9">JK2796_PolandKrakowSpadzistaStreet_24680_200</text>
<text class="l b" transform="translate(1342.5 1005.22) rotate(.03 99 0)" dy="0 0 0 0 0 0 .9 -.9 0 0 0 0 0 0 0 0 0 0 0 0 0 0 0 0 0 0 0 0 0 0 0 0 0 0 .9 -.9 0 0 0 0 0 0 .9 -.9">JK2802_PolandKrakowSpadzistaStreet_undated_undated</text>
<text class="l b" transform="translate(1342.5 1018.73) rotate(.03 99 0)" dy="0 0 0 0 0 0 .9 -.9 0 0 0 0 0 0 0 0 0 0 0 0 0 0 0 0 0 0 0 0 0 0 0 0 0 0 .9 -.9 0 0 0 0 .9 -.9">JK2803_PolandKrakowSpadzistaStreet_24480_180</text>
<text class="l" transform="translate(1342.5 1032.24) rotate(.03 99 0)" dy="0 0 0 0 0 .9 -.9 0 0 0 0 0 0 0 .9 -.9 0 0 0 0 .9 -.9">10643_Beringia_25890_140</text>
<text class="l" transform="translate(1342.5 1045.75) rotate(.03 99 0)" dy="0 0 0 0 0 .9 -.9 0 0 0 0 0 0 0 .9 -.9 0 0 0 0 .9 -.9">10719_Beringia_30200_400</text>
<text class="l" transform="translate(1342.5 1059.26) rotate(.03 99 0)" dy="0 0 0 0 0 0 .9 -.9 0 0 0 0 0 .9 -.9 0 0 0 0 .9 -.9">SP2415_Russia_12680_180</text>
<text class="l" transform="translate(1342.5 1072.77) rotate(.03 99 0)" dy="0 0 0 0 0 .9 -.9 0 0 0 0 0 0 0 .9 -.9 0 0 0 0 0 0 .9 -.9">SP741_NSiberia_undated_undated</text>
<text class="l" transform="translate(1342.5 1086.28) rotate(.03 99 0)" dy="0 0 0 0 0 .9 -.9 0 0 0 0 0 0 0 .9 -.9 0 0 0 0 0 0 .9 -.9">SP744_NSiberia_undated_undated</text>
<text class="l" transform="translate(1342.5 1099.79) rotate(.03 99 0)" dy="0 0 0 0 0 .9 -.9 0 0 0 0 0 0 0 .9 -.9 0 0 0 0 .9 -.9">10261_Beringia_34000_500</text>
<text class="l" transform="translate(1342.5 1113.3) rotate(.03 99 0)" dy="0 0 0 0 0 .9 -.9 0 0 0 0 0 0 0 .9 -.9 0 0 0 0 .9 -.9">11028_Beringia_36610_360</text>
<text class="l" transform="translate(1342.5 1126.81) rotate(.03 99 0)" dy="0 0 0 0 0 0 .9 -.9 0 0 0 0 0 0 0 .9 -.9 0 0 0 0 .9 -.9">Krause_Beringia_12170_50</text>
<text class="l" transform="translate(1342.5 1140.32) rotate(.03 99 0)" dy="0 0 0 0 0 .9 -.9 0 .9 -.9 0 0 0 0 .9 -.9">SEP65_AK_33530_340</text>
<text class="l" transform="translate(1342.5 1153.83) rotate(.03 99 0)" dy="0 0 0 0 0 .9 -.9 0 0 0 0 0 0 0 .9 -.9 0 0 0 0 .9 -.9">10244_Beringia_30300_600</text>
<text class="l" transform="translate(1342.5 1167.34) rotate(.03 99 0)" dy="0 0 0 0 0 0 .9 -.9 0 0 0 0 0 0 0 .9 -.9 0 0 0 0 .9 -.9">SP1021_Beringia_29400_600</text>
<text class="l" transform="translate(1342.5 1180.85) rotate(.03 99 0)" dy="0 0 0 .9 -.9 0 0 0 0 0 0 0 .9 -.9 0 0 0 0 .9 -.9">M13_Beringia_35800_1200</text>
<text class="l" transform="translate(1342.5 1194.36) rotate(.03 99 0)" dy="0 0 0 .9 -.9 0 0 0 0 0 0 0 .9 -.9 0 0 0 0 .9 -.9">M15_Beringia_13995_55</text>
<text class="l" transform="translate(1342.5 1207.87) rotate(.03 99 0)" dy="0 0 .9 -.9 0 0 0 0 0 0 0 .9 -.9 0 0 0 0 .9 -.9">M3_NSiberia_20620_70</text>
<text class="l" transform="translate(1342.5 1221.38) rotate(.03 99 0)" dy="0 0 0 0 0 0 .9 -.9 0 0 0 .9 -.9 0 0 0 0 0 0 .9 -.9">SP2386_Asia_undated_undated</text>
<text class="l" transform="translate(1342.5 1234.89) rotate(.03 99 0)" dy="0 0 0 0 0 .9 -.9 0 .9 -.9 0 0 0 0 .9 -.9">L200s_SI_27740_220</text>
<text class="l" transform="translate(1342.5 1248.41) rotate(.03 99 0)" dy="0 0 0 0 0 0 .9 -.9 0 0 0 0 0 0 0 .9 -.9 0 0 0 0 .9 -.9">Poinar_NSiberia_27740_220</text>
<text class="l" transform="translate(1342.5 1261.92) rotate(.03 99 0)" dy="0 0 0 0 0 .9 -.9 0 0 0 0 0 0 0 .9 -.9 0 0 0 0 .9 -.9">10235_Beringia_19200_200</text>
<text class="l" transform="translate(1342.5 1275.43) rotate(.03 99 0)" dy="0 0 0 0 0 .9 -.9 0 0 0 0 0 0 0 .9 -.9 0 0 0 0 .9 -.9">10236_Beringia_20200_100</text>
<text class="l" transform="translate(1342.5 1288.94) rotate(.03 99 0)" dy="0 0 .9 -.9 0 0 0 0 0 0 0 .9 -.9 0 0 0 0 0 0 .9 -.9">M1_Beringia_undated_undated</text>
<text class="l" transform="translate(1342.5 1302.45) rotate(.03 99 0)" dy="0 0 0 0 0 0 .9 -.9 0 0 0 0 0 0 0 .9 -.9 0 0 0 0 .9 -.9">SP1022_Beringia_12845_50</text>
<text class="l" transform="translate(1342.5 1315.96) rotate(.03 99 0)" dy="0 0 0 0 0 0 .9 -.9 0 0 0 0 0 0 0 .9 -.9 0 0 0 0 .9 -.9">SP1419_Beringia_17640_80</text>
<text class="l" transform="translate(1342.5 1329.47) rotate(.03 99 0)" dy="0 0 0 0 0 0 .9 -.9 0 0 0 .9 -.9 0 0 0 0 0 0 .9 -.9">SP2387_Asia_undated_undated</text>
<text class="l" transform="translate(1342.5 1342.98) rotate(.03 99 0)" dy="0 0 0 0 0 0 .9 -.9 0 0 0 .9 -.9 0 0 0 0 0 0 .9 -.9">SP2389_Asia_undated_undated</text>
<text class="l" transform="translate(1342.5 1356.49) rotate(.03 99 0)" dy="0 0 0 0 0 0 .9 -.9 0 0 0 0 0 .9 -.9 0 0 0 0 .9 -.9">SP2411_Russia_12680_180</text>
<text class="l" transform="translate(1342.5 1370) rotate(.03 99 0)" dy="0 0 0 .9 -.9 0 0 0 0 0 0 0 .9 -.9 0 0 0 0 .9 -.9">M18_NSiberia_17125_70</text>
<text class="l b" transform="translate(1342.5 1383.51) rotate(.03 99 0)" dy="0 0 0 0 0 0 .9 -.9 0 0 0 0 0 0 0 0 0 0 0 0 0 0 0 0 0 0 0 0 0 .9 -.9 0 0 0 0 .9 -.9">JK2782_SwitzerlandSwitzerland_13980_110</text>
<text class="l" transform="translate(1342.5 1397.02) rotate(.03 99 0)" dy="0 0 0 0 0 0 .9 -.9 0 0 0 0 0 0 0 .9 -.9 0 0 0 0 0 0 .9 -.9">SP2218_Beringia_undated_undated</text>
<text class="l" transform="translate(1342.5 1410.53) rotate(.03 99 0)" dy="0 0 0 0 0 0 .9 -.9 0 0 0 0 0 0 0 .9 -.9 0 0 0 .9 -.9">SP2220_Beringia_7306_36</text>
<text class="l" transform="translate(1342.5 1424.04) rotate(.03 99 0)" dy="0 0 0 0 0 0 .9 -.9 0 0 0 0 0 0 0 .9 -.9 0 0 0 .9 -.9">SP2222_Beringia_4115_30</text>
<text class="l" transform="translate(1342.5 1437.55) rotate(.03 99 0)" dy="0 0 0 0 0 0 .9 -.9 0 0 0 0 0 0 0 .9 -.9 0 0 0 .9 -.9">SP2223_Beringia_6891_35</text>
<text class="l" transform="translate(1342.5 1451.06) rotate(.03 99 0)" dy="0 0 0 0 0 0 .9 -.9 0 0 0 0 0 0 0 .9 -.9 0 0 0 .9 -.9">SP2225_Beringia_6647_35</text>
<text class="l" transform="translate(1342.5 1464.57) rotate(.03 99 0)" dy="0 0 0 0 0 0 0 0 0 0 .9 -.9 0 .9 -.9 0 0 0 0 .9 -.9">EID30VEP84_AB_10930_100</text>
<text class="l" transform="translate(1342.5 1478.08) rotate(.03 99 0)" dy="0 0 0 0 0 .9 -.9 0 .9 -.9 0 0 0 0 .9 -.9">EID15_WY_38260_790</text>
<text class="l" transform="translate(1342.5 1491.59) rotate(.03 99 0)" dy="0 0 0 0 0 0 .9 -.9 0 .9 -.9 0 0 0 0 0 0 .9 -.9">SSEP45_CA_undated_undated</text>
<text class="l" transform="translate(1342.5 1505.11) rotate(.03 99 0)" dy="0 0 0 0 0 0 .9 -.9 0 .9 -.9 0 0 0 0 0 0 .9 -.9">SVEP29_NE_undated_undated</text>
<text class="l" transform="translate(1342.5 1518.62) rotate(.03 99 0)" dy="0 0 0 0 0 0 .9 -.9 0 .9 -.9 0 0 0 0 .9 -.9">SVEP37_WA_13398_58</text>
<text class="l" transform="translate(1342.5 1532.13) rotate(.03 99 0)" dy="0 0 0 0 0 .9 -.9 0 .9 -.9 0 0 0 0 .9 -.9">EID26_WY_11560_60</text>
<text class="l" transform="translate(1342.5 1545.64) rotate(.03 99 0)" dy="0 0 0 0 0 .9 -.9 0 .9 -.9 0 0 0 0 .9 -.9">SEP19_NE_13850_45</text>
<text class="l" transform="translate(1342.5 1559.15) rotate(.03 99 0)" dy="0 0 0 0 0 .9 -.9 0 .9 -.9 0 0 0 0 .9 -.9">SEP52_SD_12490_35</text>
<text class="l" transform="translate(1342.5 1572.66) rotate(.03 99 0)" dy="0 0 0 0 0 .9 -.9 0 .9 -.9 0 0 0 0 .9 -.9">SEP30_NE_23670_190</text>
<text class="l" transform="translate(1342.5 1586.17) rotate(.03 99 0)" dy="0 0 0 0 0 0 0 0 .9 -.9 0 .9 -.9 0 0 0 0 .9 -.9">SVEP1478_NE_16160_80</text>
<text class="l" transform="translate(1342.5 1599.68) rotate(.03 99 0)" dy="0 0 0 0 0 0 0 0 .9 -.9 0 .9 -.9 0 0 0 0 .9 -.9">SVEP5681_NE_18440_145</text>
<text class="l" transform="translate(1342.5 1613.19) rotate(.03 99 0)" dy="0 0 0 0 0 .9 -.9 0 .9 -.9 0 0 0 0 .9 -.9">SEP07_IL_15947_60</text>
<text class="l" transform="translate(1342.5 1626.7) rotate(.03 99 0)" dy="0 0 0 0 0 0 .9 -.9 0 .9 -.9 0 0 0 0 .9 -.9">SVEP49_MI_11100_35</text>
<text class="l" transform="translate(1342.5 1640.21) rotate(.03 99 0)" dy="0 0 0 0 0 .9 -.9 0 .9 -.9 0 0 0 0 .9 -.9">SEP31_NE_23800_140</text>
<text class="l" transform="translate(1342.5 1653.72) rotate(.03 99 0)" dy="0 0 0 0 0 .9 -.9 0 .9 -.9 0 0 0 0 .9 -.9">SEP44_OR_18510_100</text>
<text class="l" transform="translate(1342.5 1667.23) rotate(.03 99 0)" dy="0 0 0 0 0 0 .9 -.9 0 .9 -.9 0 0 0 0 .9 -.9">SSEP18_NE_23590_130</text>
<text class="l" transform="translate(1342.5 1680.74) rotate(.03 99 0)" dy="0 0 0 0 0 0 .9 -.9 0 .9 -.9 0 0 0 0 .9 -.9">SVEP32_NE_15200_60</text>
<text class="l" transform="translate(1342.5 1694.25) rotate(.03 99 0)" dy="0 0 0 0 0 .9 -.9 0 .9 -.9 0 0 0 0 .9 -.9">SEP11_NE_17070_70</text>
<text class="l" transform="translate(1342.5 1707.76) rotate(.03 99 0)" dy="0 0 0 0 0 .9 -.9 0 .9 -.9 0 0 0 0 0 0 .9 -.9">SEP17_NE_undated_undated</text>
<text class="l" transform="translate(1342.5 1721.27) rotate(.03 99 0)" dy="0 0 0 0 0 0 .9 -.9 0 .9 -.9 0 0 0 0 .9 -.9">SVEP15_NE_11585_35</text>
<text class="l" transform="translate(1342.5 1734.78) rotate(.03 99 0)" dy="0 0 0 0 0 0 .9 -.9 0 .9 -.9 0 0 0 0 0 0 .9 -.9">SVEP20_NE_undated_undated</text>
<text class="l" transform="translate(1342.5 1748.29) rotate(.03 99 0)" dy="0 0 0 0 0 .9 -.9 0 .9 -.9 0 0 0 0 .9 -.9">SEP58_CO_10990_25</text>
<text class="l" transform="translate(1342.5 1761.8) rotate(.03 99 0)" dy="0 0 0 0 0 0 .9 -.9 0 .9 -.9 0 0 0 0 .9 -.9">SSEP12_NE_12130_35</text>
<text class="l" transform="translate(1342.5 1775.32) rotate(.03 99 0)" dy="0 0 0 0 0 0 .9 -.9 0 .9 -.9 0 0 0 0 .9 -.9">SSEP39_CO_12475_40</text>
<text class="l" transform="translate(1342.5 1788.83) rotate(.03 99 0)" dy="0 0 0 0 0 0 .9 -.9 0 .9 -.9 0 0 0 0 .9 -.9">SVEP43_CO_10990_25</text>
<text class="l" transform="translate(1342.5 1802.34) rotate(.03 99 0)" dy="0 0 0 0 0 0 .9 -.9 0 .9 -.9 0 0 0 0 .9 -.9">SVEP57_CO_10990_25</text>
<text class="l" transform="translate(1342.5 1815.85) rotate(.03 99 0)" dy="0 0 0 0 0 0 .9 -.9 0 .9 -.9 0 0 0 0 .9 -.9">SVEP72_NE_10650_30</text>
<text class="l" transform="translate(1342.5 1829.36) rotate(.03 99 0)" dy="0 0 0 0 0 .9 -.9 0 .9 -.9 0 0 0 0 .9 -.9">SEP59_CO_10990_25</text>
<text class="l" transform="translate(1342.5 1842.87) rotate(.03 99 0)" dy="0 0 0 0 0 0 .9 -.9 0 .9 -.9 0 0 0 0 .9 -.9">SSEP38_CO_10990_25</text>
<text class="l" transform="translate(1342.5 1856.38) rotate(.03 99 0)" dy="0 0 0 0 0 0 .9 -.9 0 .9 -.9 0 0 0 0 .9 -.9">SVEP41_CO_10990_25</text>
<text class="l" transform="translate(1342.5 1869.89) rotate(.03 99 0)" dy="0 0 0 0 0 .9 -.9 0 .9 -.9 0 0 0 0 0 0 0 .9 -.9">EID13_AK_infinite_undated</text>
<text class="l" transform="translate(1342.5 1883.4) rotate(.03 99 0)" dy="0 0 0 0 0 .9 -.9 0 .9 -.9 0 0 0 0 0 0 0 .9 -.9">SEP61_YU_infinite_undated</text>
<text class="l" transform="translate(1342.5 1896.91) rotate(.03 99 0)" dy="0 0 0 0 0 .9 -.9 0 .9 -.9 0 0 0 0 0 0 .9 -.9">EID03_YU_undated_undated</text>
<text class="l" transform="translate(1342.5 1910.42) rotate(.03 99 0)" dy="0 0 0 0 0 .9 -.9 0 .9 -.9 0 0 0 0 .9 -.9">EID10_YU_22430_140</text>
<text class="l" transform="translate(1342.5 1923.93) rotate(.03 99 0)" dy="0 0 0 0 0 0 .9 -.9 0 .9 -.9 0 0 0 0 .9 -.9">SVEP09_IL_12495_45</text>
<text class="l" transform="translate(1342.5 1937.44) rotate(.03 99 0)" dy="0 0 0 0 0 0 0 0 .9 -.9 0 .9 -.9 0 0 0 0 .9 -.9">SVEP1679_NE_33670_450</text>
<text class="l" transform="translate(1342.5 1950.95) rotate(.03 99 0)" dy="0 0 0 0 0 .9 -.9 0 .9 -.9 0 0 0 0 0 0 0 .9 -.9">EID11_AK_infinite_undated</text>
<text class="l" transform="translate(1342.5 1964.46) rotate(.03 99 0)" dy="0 0 0 0 0 .9 -.9 0 .9 -.9 0 0 0 0 .9 -.9">EID02_AK_41510_480</text>
<text class="l" transform="translate(1342.5 1977.97) rotate(.03 99 0)" dy="0 0 0 0 0 .9 -.9 0 .9 -.9 0 0 0 0 .9 -.9">SEP63_YU_38600_2900</text>
<text class="l" transform="translate(1342.5 1991.48) rotate(.03 99 0)" dy="0 0 0 0 0 .9 -.9 0 .9 -.9 0 0 0 0 0 0 .9 -.9">EID07_YU_undated_undated</text>
<text class="l" transform="translate(1342.5 2004.99) rotate(.03 99 0)" dy="0 0 0 0 0 .9 -.9 0 .9 -.9 0 0 0 0 .9 -.9 0 0 0 .9 -.9">SEP69_AK_42764_1737_46455</text>
<text class="l" transform="translate(1342.5 2018.5) rotate(.03 99 0)" dy="0 0 0 0 0 .9 -.9 0 .9 -.9 0 0 0 0 .9 -.9">EID05_YU_28960_310</text>
<text class="l" transform="translate(1342.5 2032.01) rotate(.03 99 0)" dy="0 0 0 0 0 .9 -.9 0 .9 -.9 0 0 0 0 0 0 .9 -.9">EEP41_MA_undated_undated</text>
<text class="l" transform="translate(1342.5 2045.53) rotate(.03 99 0)" dy="0 0 0 0 0 .9 -.9 0 .9 -.9 0 0 0 0 .9 -.9">EID25_ME_12200_55</text>
<text class="l" transform="translate(1342.5 2059.04) rotate(.03 99 0)" dy="0 0 0 0 0 0 .9 -.9 0 .9 -.9 0 0 0 0 .9 -.9">SVEP05_IL_17510_70</text>
<text class="l" transform="translate(1342.5 2072.55) rotate(.03 99 0)" dy="0 0 0 0 0 0 0 0 0 0 .9 -.9 0 .9 -.9 0 0 0 0 .9 -.9">EID23SEP03_IN_23050_180</text>
<text class="l" transform="translate(1342.5 2086.06) rotate(.03 99 0)" dy="0 0 0 0 0 .9 -.9 0 .9 -.9 0 0 0 0 .9 -.9">EID27_NY_10350_45</text>
<text class="l" transform="translate(1342.5 2099.57) rotate(.03 99 0)" dy="0 0 0 0 0 .9 -.9 0 .9 -.9 0 0 0 0 .9 -.9">SEP02_MI_12450_40</text>
<text class="l" transform="translate(1342.5 2113.08) rotate(.03 99 0)" dy="0 0 0 0 0 0 .9 -.9 0 .9 -.9 0 0 0 0 .9 -.9">SSEP25_KY_13985_45</text>
<text class="l" transform="translate(1342.5 2126.59) rotate(.03 99 0)" dy="0 0 0 0 0 .9 -.9 0 .9 -.9 0 0 0 0 .9 -.9">SEP50_MI_12320_50</text>
<text class="l" transform="translate(1342.5 2140.1) rotate(.03 99 0)" dy="0 0 0 0 0 .9 -.9 0 .9 -.9 0 0 0 0 .9 -.9">VEP82_NY_11250_65</text>
<text class="l" transform="translate(1342.5 2153.61) rotate(.03 99 0)" dy="0 0 0 0 0 .9 -.9 0 .9 -.9 0 0 0 0 .9 -.9">SEP06_IL_20550_100</text>
<text class="l" transform="translate(1342.5 2167.12) rotate(.03 99 0)" dy="0 0 0 0 0 0 .9 -.9 0 .9 -.9 0 0 0 0 0 0 .9 -.9">SVEP08_IL_undated_undated</text>
<text class="l" transform="translate(1342.5 2180.63) rotate(.03 99 0)" dy="0 0 0 0 0 .9 -.9 0 .9 -.9 0 0 0 0 .9 -.9">SEP53_KY_13215_40</text>
<text class="l" transform="translate(1342.5 2194.14) rotate(.03 99 0)" dy="0 0 0 0 0 0 .9 -.9 0 .9 -.9 0 0 0 0 .9 -.9">SSEP26_KY_12930_40</text>
<text class="l" transform="translate(1342.5 2207.65) rotate(.03 99 0)" dy="0 0 0 0 0 0 .9 -.9 0 .9 -.9 0 0 0 0 0 0 .9 -.9">SVEP48_OH_undated_undated</text>
<text class="l" transform="translate(1342.5 2221.16) rotate(.03 99 0)" dy="0 0 0 0 0 0 .9 -.9 0 .9 -.9 0 0 0 0 .9 -.9 0 .9 -.9">SSED27_KY_13950_45_16926</text>
<text class="l" transform="translate(1342.5 2234.67) rotate(.03 99 0)" dy="0 0 0 0 0 0 .9 -.9 0 .9 -.9 0 0 0 0 .9 -.9">SSED28_KY_13860_40</text>
<text class="s" style="stroke-width:.4px" x="454" y="132.24">0.5349</text>
<text class="s" transform="translate(382.4 530.47) scale(1 1.026)">1</text>
<text class="s" transform="translate(862.25 60.43) scale(1 1.026)">1</text>
<text class="s" transform="translate(667.15 202.15) scale(1 1.026)">1</text>
<text class="s" transform="translate(910 930.5) scale(1 1.026)">1</text>
<path d="M299 2274.2H948" stroke="#000" stroke-width="1.6" fill="none"/>
<text transform="translate(597.1 2299.8) rotate(.03)" style="font-family:'Liberation Sans',sans-serif;font-size:24.4px;fill:#000;stroke:#000;stroke-width:0.4px">0.005</text>
</svg></body></html>
